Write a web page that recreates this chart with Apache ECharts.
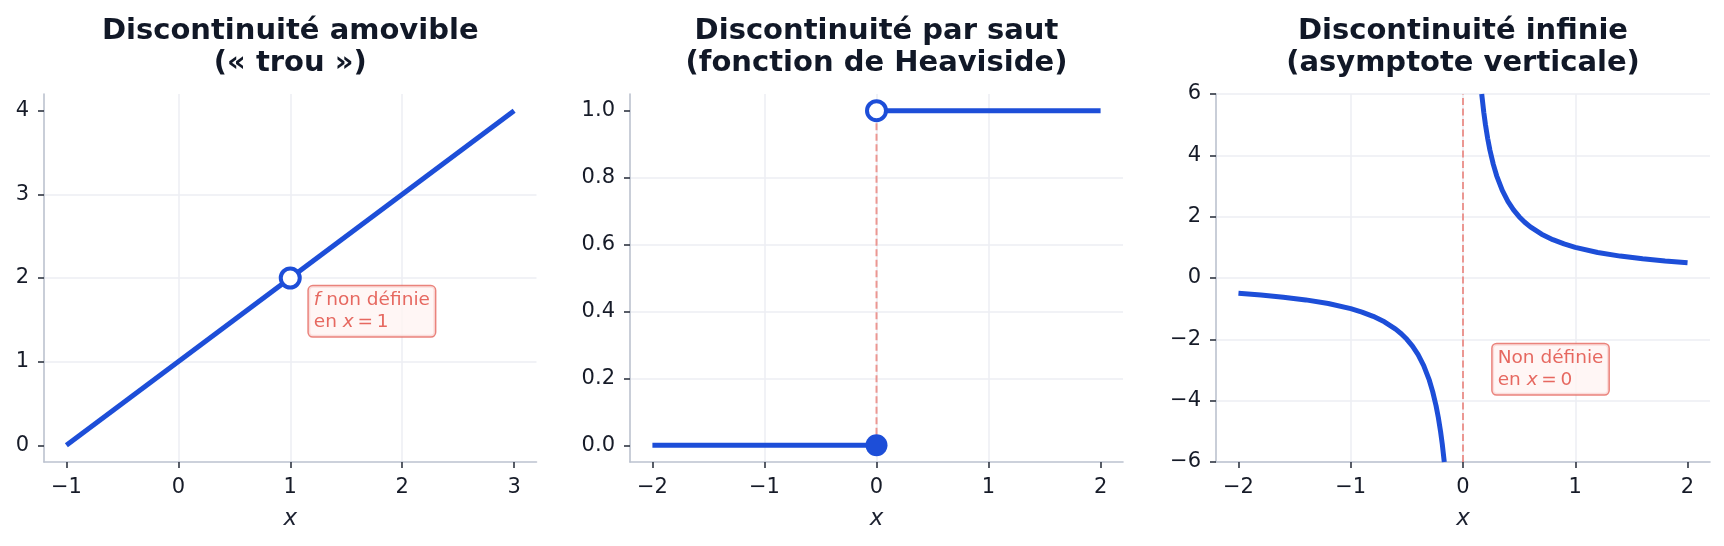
<!DOCTYPE html>
<html>
<head>
<meta charset="utf-8">
<script src="https://cdn.jsdelivr.net/npm/echarts@6/dist/echarts.min.js"></script>
<style>
html,body{margin:0;padding:0;background:#fff;}
#c{width:1724px;height:546px;}
</style>
</head>
<body>
<div id="c"></div>
<script>
// ---- Data ----
const titles = [
  'Discontinuité amovible\n(« trou »)',
  'Discontinuité par saut\n(fonction de Heaviside)',
  'Discontinuité infinie\n(asymptote verticale)'
];
// Panel 1 : f(x) = x + 1 with a hole at x = 1
const p1LineX = [-1, 3];
const p1LineY = [0, 4];
const p1Hole = [1, 2];
const p1TicksX = [-1, 0, 1, 2, 3];
const p1TicksY = [0, 1, 2, 3, 4];
const p1Note = [1.166, 1.9];

// Panel 2 : Heaviside
const p2LeftX = [-2, 0];
const p2LeftY = [0, 0];
const p2RightX = [0, 2];
const p2RightY = [1, 1];
const p2Filled = [0, 0];
const p2Open = [0, 1];
const p2Jump = [[0, 0], [0, 1]];
const p2TicksX = [-2, -1, 0, 1, 2];
const p2TicksY = [0, 0.2, 0.4, 0.6, 0.8, 1.0];

// Panel 3 : 1/x
const p3NegX = [-2, -1.8, -1.6, -1.4, -1.2, -1.0, -0.9, -0.8, -0.7, -0.6, -0.55, -0.5, -0.45, -0.4, -0.35, -0.3, -0.27, -0.24, -0.22, -0.2, -0.185, -0.1667];
const p3NegY = [-0.5, -0.556, -0.625, -0.714, -0.833, -1.0, -1.111, -1.25, -1.429, -1.667, -1.818, -2.0, -2.222, -2.5, -2.857, -3.333, -3.704, -4.167, -4.545, -5.0, -5.405, -6.0];
const p3PosX = [0.1667, 0.185, 0.2, 0.22, 0.24, 0.27, 0.3, 0.35, 0.4, 0.45, 0.5, 0.55, 0.6, 0.7, 0.8, 0.9, 1.0, 1.2, 1.4, 1.6, 1.8, 2];
const p3PosY = [6.0, 5.405, 5.0, 4.545, 4.167, 3.704, 3.333, 2.857, 2.5, 2.222, 2.0, 1.818, 1.667, 1.429, 1.25, 1.111, 1.0, 0.833, 0.714, 0.625, 0.556, 0.5];
const p3Asym = [[0, -6], [0, 6]];
const p3TicksX = [-2, -1, 0, 1, 2];
const p3TicksY = [-6, -4, -2, 0, 2, 4, 6];
const p3Note = [0.264, -2.16];

const notes = ['{i|f} non définie\nen {i|x}\u2009=\u20091', 'Non définie\nen {i|x}\u2009=\u20090'];

// ---- Styles ----
const BLUE = '#1d4ed8';
const RED_TXT = '#e0453b';
const FONT = 'DejaVu Sans';
const zip = (xs, ys) => xs.map((x, i) => [x, ys[i]]);
const minus = v => String(v).replace('-', '\u2212');

const grids = [
  {left: 44, top: 94, width: 492.5, height: 368},
  {left: 630, top: 94, width: 493, height: 368},
  {left: 1216, top: 94, width: 494, height: 368}
];

function xAxis(idx, min, max, ticks) {
  return {
    type: 'value', gridIndex: idx, min: min, max: max,
    name: 'x', nameLocation: 'middle', nameGap: 46,
    nameTextStyle: {fontFamily: FONT, fontStyle: 'italic', fontSize: 23, color: '#1c2130'},
    axisLine: {show: true, onZero: false, lineStyle: {color: '#bcc2cf', width: 1.6}},
    axisTick: {show: true, customValues: ticks, length: 6, lineStyle: {color: '#2f3542', width: 1.6}},
    axisLabel: {customValues: ticks, margin: 15, fontFamily: FONT, fontSize: 21, color: '#161b28', formatter: minus},
    splitLine: {show: true, showMinLine: false, showMaxLine: false, lineStyle: {color: '#eceef3', width: 1.5}}
  };
}
function yAxis(idx, min, max, ticks, fmt, edges) {
  return {
    type: 'value', gridIndex: idx, min: min, max: max,
    axisLine: {show: true, onZero: false, lineStyle: {color: '#bcc2cf', width: 1.6}},
    axisTick: {show: true, customValues: ticks, length: 6, lineStyle: {color: '#2f3542', width: 1.6}},
    axisLabel: {customValues: ticks, margin: 15, fontFamily: FONT, fontSize: 21, color: '#161b28', formatter: fmt},
    splitLine: {show: true, showMinLine: edges, showMaxLine: edges, lineStyle: {color: '#eceef3', width: 1.5}}
  };
}

function line(idx, data, z) {
  return {type: 'line', xAxisIndex: idx, yAxisIndex: idx, data: data, showSymbol: false, symbol: 'none',
    lineStyle: {color: BLUE, width: 5}, z: z || 3, silent: true, clip: true};
}
function dashed(idx, data) {
  return {type: 'line', xAxisIndex: idx, yAxisIndex: idx, data: data, showSymbol: false, symbol: 'none',
    lineStyle: {color: 'rgba(232,90,80,0.6)', width: 2, type: [7, 3.5]}, z: 2, silent: true};
}
function openDot(idx, pt) {
  return {type: 'scatter', xAxisIndex: idx, yAxisIndex: idx, data: [pt], symbol: 'circle', symbolSize: 19,
    itemStyle: {color: '#ffffff', borderColor: BLUE, borderWidth: 4, opacity: 1}, z: 5, silent: true};
}
function filledDot(idx, pt) {
  return {type: 'scatter', xAxisIndex: idx, yAxisIndex: idx, data: [pt], symbol: 'circle', symbolSize: 22,
    itemStyle: {color: BLUE, opacity: 1}, z: 5, silent: true};
}
function note(idx, pt, text) {
  return {type: 'scatter', xAxisIndex: idx, yAxisIndex: idx, data: [pt], symbol: 'circle', symbolSize: 0,
    itemStyle: {color: 'rgba(0,0,0,0)'}, z: 6, silent: true,
    label: {show: true, position: [0, 0], align: 'left', verticalAlign: 'top', formatter: text,
      fontFamily: FONT, fontSize: 18.5, lineHeight: 22, color: RED_TXT,
      backgroundColor: '#fff4f3', borderColor: '#e5645b', borderWidth: 1.5, borderRadius: 4,
      padding: [3, 5, 3, 5],
      rich: {i: {fontFamily: FONT, fontStyle: 'italic', fontSize: 18.5, lineHeight: 22, color: RED_TXT}}}};
}

const titleCenters = grids.map(g => g.left + g.width / 2);

const option = {
  animation: false,
  backgroundColor: '#ffffff',
  grid: grids,
  xAxis: [
    xAxis(0, -1.2, 3.2, p1TicksX),
    xAxis(1, -2.2, 2.2, p2TicksX),
    xAxis(2, -2.2, 2.2, p3TicksX)
  ],
  yAxis: [
    yAxis(0, -0.2, 4.2, p1TicksY, minus, false),
    yAxis(1, -0.05, 1.05, p2TicksY, v => Number(v).toFixed(1), false),
    yAxis(2, -6, 6, p3TicksY, minus, true)
  ],
  graphic: titles.map((t, i) => ({
    type: 'text', x: titleCenters[i], y: 15, silent: true,
    style: {text: t, align: 'center', textAlign: 'center', verticalAlign: 'top', textVerticalAlign: 'top',
      fontFamily: FONT, fontWeight: 'bold', fontSize: 29, lineHeight: 32, fill: '#111827'}
  })),
  series: [
    line(0, zip(p1LineX, p1LineY)),
    openDot(0, p1Hole),
    note(0, p1Note, notes[0]),

    dashed(1, p2Jump),
    line(1, zip(p2LeftX, p2LeftY)),
    line(1, zip(p2RightX, p2RightY)),
    filledDot(1, p2Filled),
    openDot(1, p2Open),

    dashed(2, p3Asym),
    line(2, zip(p3NegX, p3NegY)),
    line(2, zip(p3PosX, p3PosY)),
    note(2, p3Note, notes[1])
  ]
};

const chart = echarts.init(document.getElementById('c'), null, {renderer: 'canvas'});
chart.setOption(option);
</script>
</body>
</html>
